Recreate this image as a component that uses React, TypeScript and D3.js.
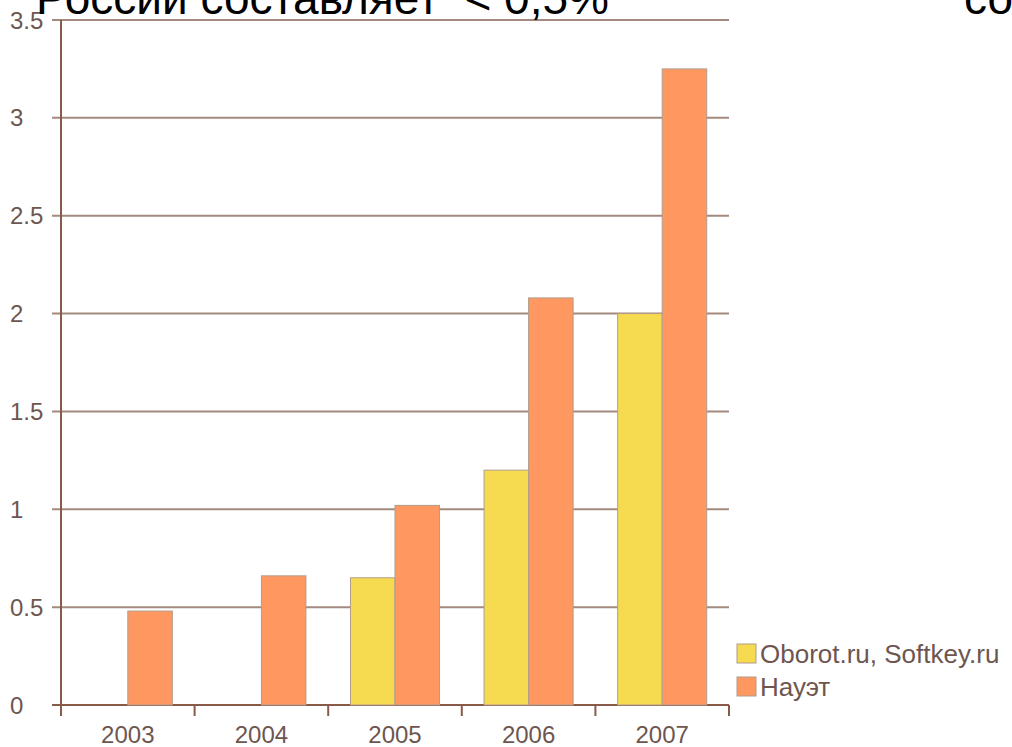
import React from "react";
import * as d3 from "d3";

const years = ["2003", "2004", "2005", "2006", "2007"];
const seriesNames = ["Oborot.ru, Softkey.ru", "Науэт"];
const oborotValues: (number | null)[] = [null, null, 0.65, 1.2, 2.0];
const nauetValues: (number | null)[] = [0.48, 0.66, 1.02, 2.08, 3.25];
const yTicks = [0, 0.5, 1, 1.5, 2, 2.5, 3, 3.5];
const colors = ["#F6DA4F", "#FE9760"];

const W = 1012, H = 747;
const left = 61, right = 729, top = 20, bottom = 705;

export default function App() {
  const x = d3.scaleBand<string>().domain(years).range([left, right]).paddingInner(0).paddingOuter(0);
  const x1 = d3.scaleBand<number>().domain([0, 1]).range([0, x.bandwidth()]).paddingInner(0).paddingOuter(0.5);
  const y = d3.scaleLinear().domain([0, 3.5]).range([bottom, top]);
  const series = [oborotValues, nauetValues];
  const axisColor = "#8a5a48";
  const gridColor = "#a38a7e";
  const labelColor = "#6e5650";
  const font = "Liberation Sans, Arial, sans-serif";
  return (
    <svg width={W} height={H} style={{ position: "absolute", left: 0, top: 0, background: "#fff" }}>
      {yTicks.map((t) => (
        <g key={t}>
          <line x1={52} x2={right} y1={y(t)} y2={y(t)} stroke={t === 0 ? axisColor : gridColor} strokeWidth={2} />
          <text x={10} y={y(t)} dominantBaseline="central" fontFamily={font} fontSize={24} fill={labelColor}>{t}</text>
        </g>
      ))}
      {[...years.map((d) => x(d)!), right].map((v, i) => (
        <line key={i} x1={v} x2={v} y1={bottom} y2={bottom + 11} stroke={axisColor} strokeWidth={2} />
      ))}
      {years.map((yr, i) => (
        <g key={yr}>
          {series.map((s, j) => {
            const v = s[i];
            if (v == null) return null;
            return (
              <rect key={j} x={x(yr)! + x1(j)!} y={y(v)} width={x1.bandwidth()} height={y(0) - y(v)}
                fill={colors[j]} stroke="#b29c8c" strokeWidth={1} />
            );
          })}
          <text x={x(yr)! + x.bandwidth() / 2} y={743} textAnchor="middle" fontFamily={font} fontSize={24} fill={labelColor}>{yr}</text>
        </g>
      ))}
      <line x1={left} x2={left} y1={top} y2={bottom + 11} stroke={axisColor} strokeWidth={2} />
      {seriesNames.map((n, i) => (
        <g key={n}>
          <rect x={737} y={644 + i * 33} width={19} height={19} fill={colors[i]} stroke="#b29c8c" strokeWidth={1} />
          <text x={760} y={663 + i * 33} fontFamily={font} fontSize={26} fill={labelColor}>{n}</text>
        </g>
      ))}
      <text x={36} y={14} fontFamily={font} fontSize={46} fill="#000" style={{ whiteSpace: "pre" }}>России составляет  &lt; 0,5%</text>
      <text x={964} y={14} fontFamily={font} fontSize={46} fill="#000">со</text>
    </svg>
  );
}
